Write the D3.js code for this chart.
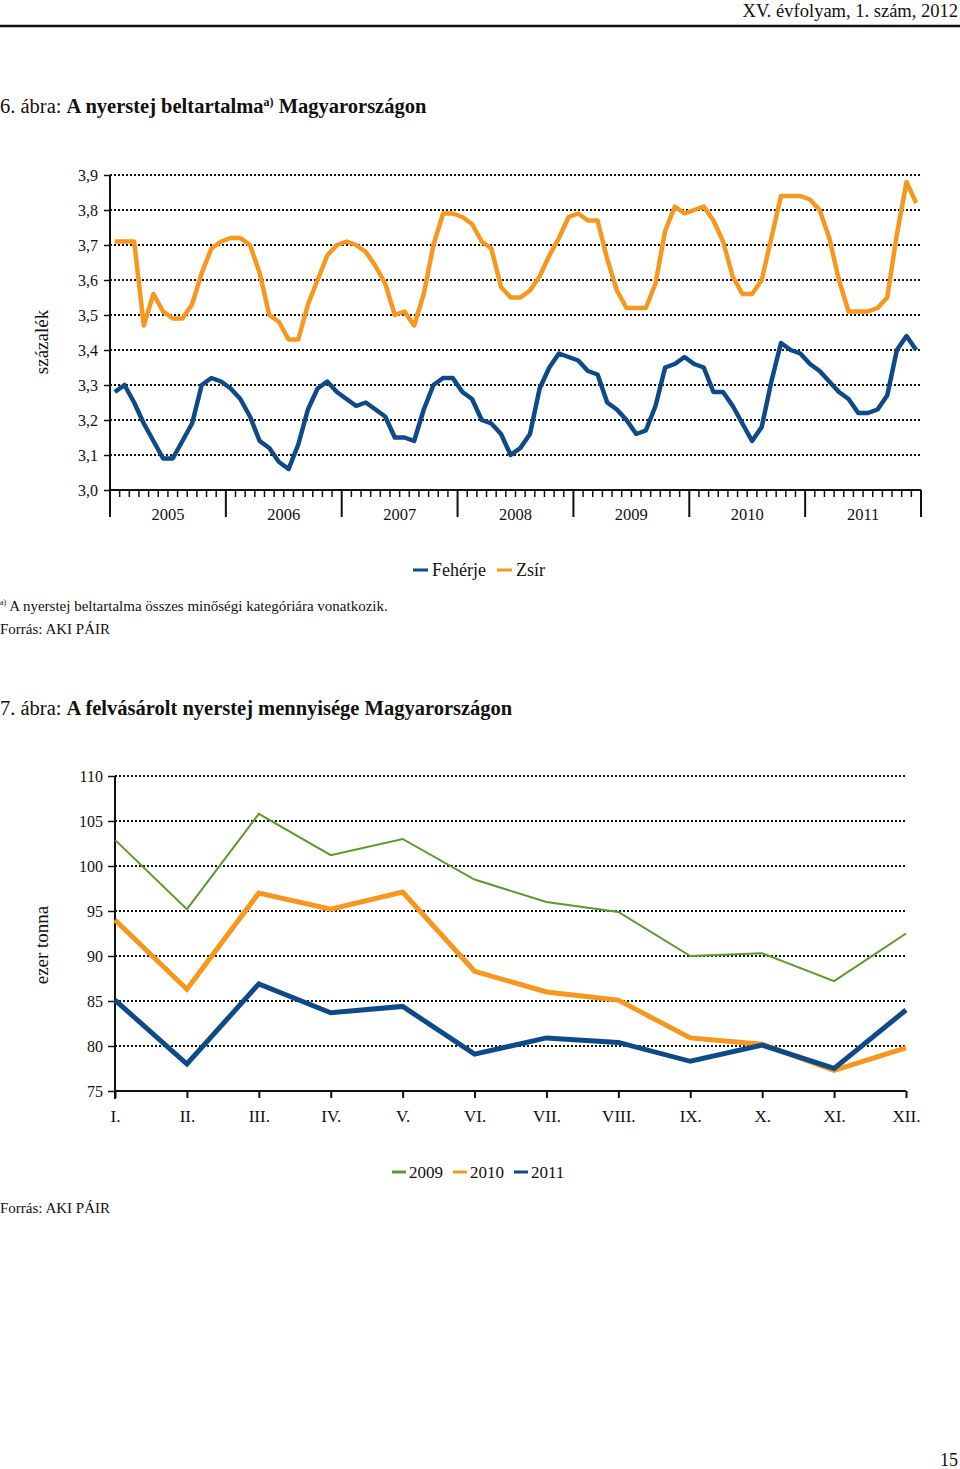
<!DOCTYPE html>
<html><head><meta charset="utf-8">
<script src="https://cdn.jsdelivr.net/npm/d3@7/dist/d3.min.js"></script>
<style>
body{margin:0;background:#fff;}
svg text{font-family:"Liberation Serif","Times New Roman",serif;fill:#111;}
</style></head>
<body>
<svg id="page" width="960" height="1469"></svg>
<script>
// ---- Chart 1 data (monthly, 2005-2011) ----
const years1 = ["2005","2006","2007","2008","2009","2010","2011"];
const yTicks1 = [3.0,3.1,3.2,3.3,3.4,3.5,3.6,3.7,3.8,3.9];
const feherje = [3.28,3.30,3.25,3.19,3.14,3.09,3.09,3.14,3.19,3.30,3.32,3.31,
  3.29,3.26,3.21,3.14,3.12,3.08,3.06,3.13,3.23,3.29,3.31,3.28,
  3.26,3.24,3.25,3.23,3.21,3.15,3.15,3.14,3.23,3.30,3.32,3.32,
  3.28,3.26,3.20,3.19,3.16,3.10,3.12,3.16,3.29,3.35,3.39,3.38,
  3.37,3.34,3.33,3.25,3.23,3.20,3.16,3.17,3.24,3.35,3.36,3.38,
  3.36,3.35,3.28,3.28,3.24,3.19,3.14,3.18,3.31,3.42,3.40,3.39,
  3.36,3.34,3.31,3.28,3.26,3.22,3.22,3.23,3.27,3.40,3.44,3.40];
const zsir = [3.71,3.71,3.71,3.47,3.56,3.51,3.49,3.49,3.53,3.62,3.69,3.71,
  3.72,3.72,3.70,3.62,3.50,3.48,3.43,3.43,3.53,3.60,3.67,3.70,
  3.71,3.70,3.68,3.64,3.59,3.50,3.51,3.47,3.56,3.70,3.79,3.79,
  3.78,3.76,3.71,3.69,3.58,3.55,3.55,3.57,3.61,3.67,3.72,3.78,
  3.79,3.77,3.77,3.66,3.57,3.52,3.52,3.52,3.59,3.74,3.81,3.79,
  3.80,3.81,3.77,3.71,3.61,3.56,3.56,3.60,3.72,3.84,3.84,3.84,
  3.83,3.80,3.72,3.60,3.51,3.51,3.51,3.52,3.55,3.73,3.88,3.82];

// ---- Chart 2 data ----
const months2 = ["I.","II.","III.","IV.","V.","VI.","VII.","VIII.","IX.","X.","XI.","XII."];
const yTicks2 = [75,80,85,90,95,100,105,110];
const v2009 = [102.9,95.2,105.8,101.2,103.0,98.5,96.0,94.9,90.0,90.3,87.2,92.5];
const v2010 = [94.0,86.3,97.0,95.2,97.1,88.3,86.0,85.1,80.9,80.2,77.3,79.8];
const v2011 = [85.1,78.0,86.9,83.7,84.4,79.1,80.9,80.4,78.3,80.1,77.5,84.0];

const C_BLUE="#0d4a87", C_ORANGE="#f7971e", C_GREEN="#5b9a2d";

const svg = d3.select("#page");

// Header
svg.append("text").attr("x",958).attr("y",17).attr("text-anchor","end")
  .style("font-size","18.5px").text("XV. évfolyam, 1. szám, 2012");
svg.append("line").attr("x1",0).attr("x2",960).attr("y1",26).attr("y2",26)
  .attr("stroke","#111").attr("stroke-width",2.5);

// Title 1
const t1 = svg.append("text").attr("x",0).attr("y",113).style("font-size","20.5px");
t1.append("tspan").text("6. ábra: ");
t1.append("tspan").style("font-weight","bold").text("A nyerstej beltartalma");
t1.append("tspan").style("font-weight","bold").style("font-size","12px").attr("dy",-7).text("a)");
t1.append("tspan").style("font-weight","bold").attr("dy",7).text(" Magyarországon");

// ---- Chart 1 ----
(function(){
  const L=110, R=921, T=175, B=490;
  const months = d3.range(years1.length*12);
  const x = d3.scaleBand().domain(months).range([L,R]);
  const y = d3.scaleLinear().domain([3.0,3.9]).range([B,T]);
  const g = svg.append("g");
  g.selectAll(".grid").data(yTicks1.filter(d=>d>3.0)).join("line")
    .attr("x1",L).attr("x2",R).attr("y1",d=>y(d)).attr("y2",d=>y(d))
    .attr("stroke","#111").attr("stroke-width",1.8).attr("stroke-dasharray","2,2");
  const ya = d3.axisLeft(y).tickValues(yTicks1).tickSize(6).tickPadding(6)
    .tickFormat(d=>d3.format(".1f")(d).replace(".",","));
  const yg = g.append("g").attr("transform",`translate(${L},0)`).call(ya);
  yg.select(".domain").remove();
  yg.selectAll("line").attr("stroke","#111").attr("stroke-width",1.5);
  yg.selectAll("text").style("font-size","16px").style("font-family","Liberation Serif").attr("fill","#111");
  g.append("line").attr("x1",L).attr("x2",L).attr("y1",T).attr("y2",517).attr("stroke","#111").attr("stroke-width",2);
  g.append("line").attr("x1",L).attr("x2",R).attr("y1",B).attr("y2",B).attr("stroke","#111").attr("stroke-width",2);
  const bounds = d3.range(1, months.length+1);
  g.selectAll(".mt").data(bounds).join("line")
    .attr("x1",d=>x(d-1)+x.bandwidth()).attr("x2",d=>x(d-1)+x.bandwidth())
    .attr("y1",B).attr("y2",d=>d%12===0?517:497)
    .attr("stroke","#111").attr("stroke-width",d=>d%12===0?2:1.5);
  g.selectAll(".yl").data(years1).join("text")
    .attr("x",(d,i)=>(x(i*12)+x(i*12+11)+x.bandwidth())/2).attr("y",520)
    .attr("text-anchor","middle").style("font-size","16.5px").text(d=>d);
  const line = d3.line().x((d,i)=>x(i)+x.bandwidth()/2).y(d=>y(d));
  g.append("path").datum(zsir).attr("d",line).attr("fill","none")
    .attr("stroke",C_ORANGE).attr("stroke-width",4.5).attr("stroke-linejoin","round");
  g.append("path").datum(feherje).attr("d",line).attr("fill","none")
    .attr("stroke",C_BLUE).attr("stroke-width",4.5).attr("stroke-linejoin","round");
  svg.append("text").attr("transform","translate(48,342) rotate(-90)")
    .attr("text-anchor","middle").style("font-size","19px").text("százalék");
  const leg=[["Fehérje",C_BLUE,413],["Zsír",C_ORANGE,497]];
  leg.forEach(([n,c,lx])=>{
    svg.append("line").attr("x1",lx).attr("x2",lx+15).attr("y1",570).attr("y2",570).attr("stroke",c).attr("stroke-width",3);
    svg.append("text").attr("x",lx+19).attr("y",576).style("font-size","18px").text(n);
  });
})();

// Footnote
const fn = svg.append("text").attr("x",0).attr("y",611).style("font-size","15px");
fn.append("tspan").style("font-size","8px").attr("dy",-6).text("a)");
fn.append("tspan").attr("dy",6).text(" A nyerstej beltartalma összes minőségi kategóriára vonatkozik.");
svg.append("text").attr("x",0).attr("y",634).style("font-size","15px").text("Forrás: AKI PÁIR");

// Title 2
const t2 = svg.append("text").attr("x",0).attr("y",715).style("font-size","20.5px");
t2.append("tspan").text("7. ábra: ");
t2.append("tspan").style("font-weight","bold").text("A felvásárolt nyerstej mennyisége Magyarországon");

// ---- Chart 2 ----
(function(){
  const L=115, R=906, T=776, B=1091;
  const x = d3.scalePoint().domain(months2).range([L,R]);
  const y = d3.scaleLinear().domain([75,110]).range([B,T]);
  const g = svg.append("g");
  g.selectAll(".grid").data(yTicks2.filter(d=>d>75)).join("line")
    .attr("x1",L).attr("x2",R).attr("y1",d=>y(d)).attr("y2",d=>y(d))
    .attr("stroke","#111").attr("stroke-width",1.8).attr("stroke-dasharray","2,2");
  const ya = d3.axisLeft(y).tickValues(yTicks2).tickSize(7).tickPadding(5);
  const yg = g.append("g").attr("transform",`translate(${L},0)`).call(ya);
  yg.select(".domain").remove();
  yg.selectAll("line").attr("stroke","#111").attr("stroke-width",1.5);
  yg.selectAll("text").style("font-size","16px").style("font-family","Liberation Serif").attr("fill","#111");
  g.append("line").attr("x1",L).attr("x2",L).attr("y1",T).attr("y2",1099).attr("stroke","#111").attr("stroke-width",2);
  const xa = d3.axisBottom(x).tickSize(7).tickPadding(12);
  const xg = g.append("g").attr("transform",`translate(0,${B})`).call(xa);
  xg.select(".domain").attr("stroke","#111").attr("stroke-width",2).attr("d",`M${L},0H${R}`);
  xg.selectAll("line").attr("stroke","#111").attr("stroke-width",2);
  xg.selectAll("text").style("font-size","17px").style("font-family","Liberation Serif").attr("fill","#111");
  const line = d3.line().x((d,i)=>x(months2[i])).y(d=>y(d));
  g.append("path").datum(v2009).attr("d",line).attr("fill","none").attr("stroke",C_GREEN).attr("stroke-width",2);
  g.append("path").datum(v2010).attr("d",line).attr("fill","none").attr("stroke",C_ORANGE).attr("stroke-width",5);
  g.append("path").datum(v2011).attr("d",line).attr("fill","none").attr("stroke",C_BLUE).attr("stroke-width",5);
  svg.append("text").attr("transform","translate(48,945) rotate(-90)")
    .attr("text-anchor","middle").style("font-size","19px").text("ezer tonna");
  const leg=[["2009",C_GREEN,392],["2010",C_ORANGE,453],["2011",C_BLUE,514]];
  leg.forEach(([n,c,lx])=>{
    svg.append("line").attr("x1",lx).attr("x2",lx+14).attr("y1",1172).attr("y2",1172).attr("stroke",c).attr("stroke-width",3);
    svg.append("text").attr("x",lx+17).attr("y",1178).style("font-size","17px").text(n);
  });
})();
svg.append("text").attr("x",0).attr("y",1213).style("font-size","15px").text("Forrás: AKI PÁIR");
svg.append("text").attr("x",958).attr("y",1466).attr("text-anchor","end").style("font-size","18px").text("15");
</script>
</body></html>
